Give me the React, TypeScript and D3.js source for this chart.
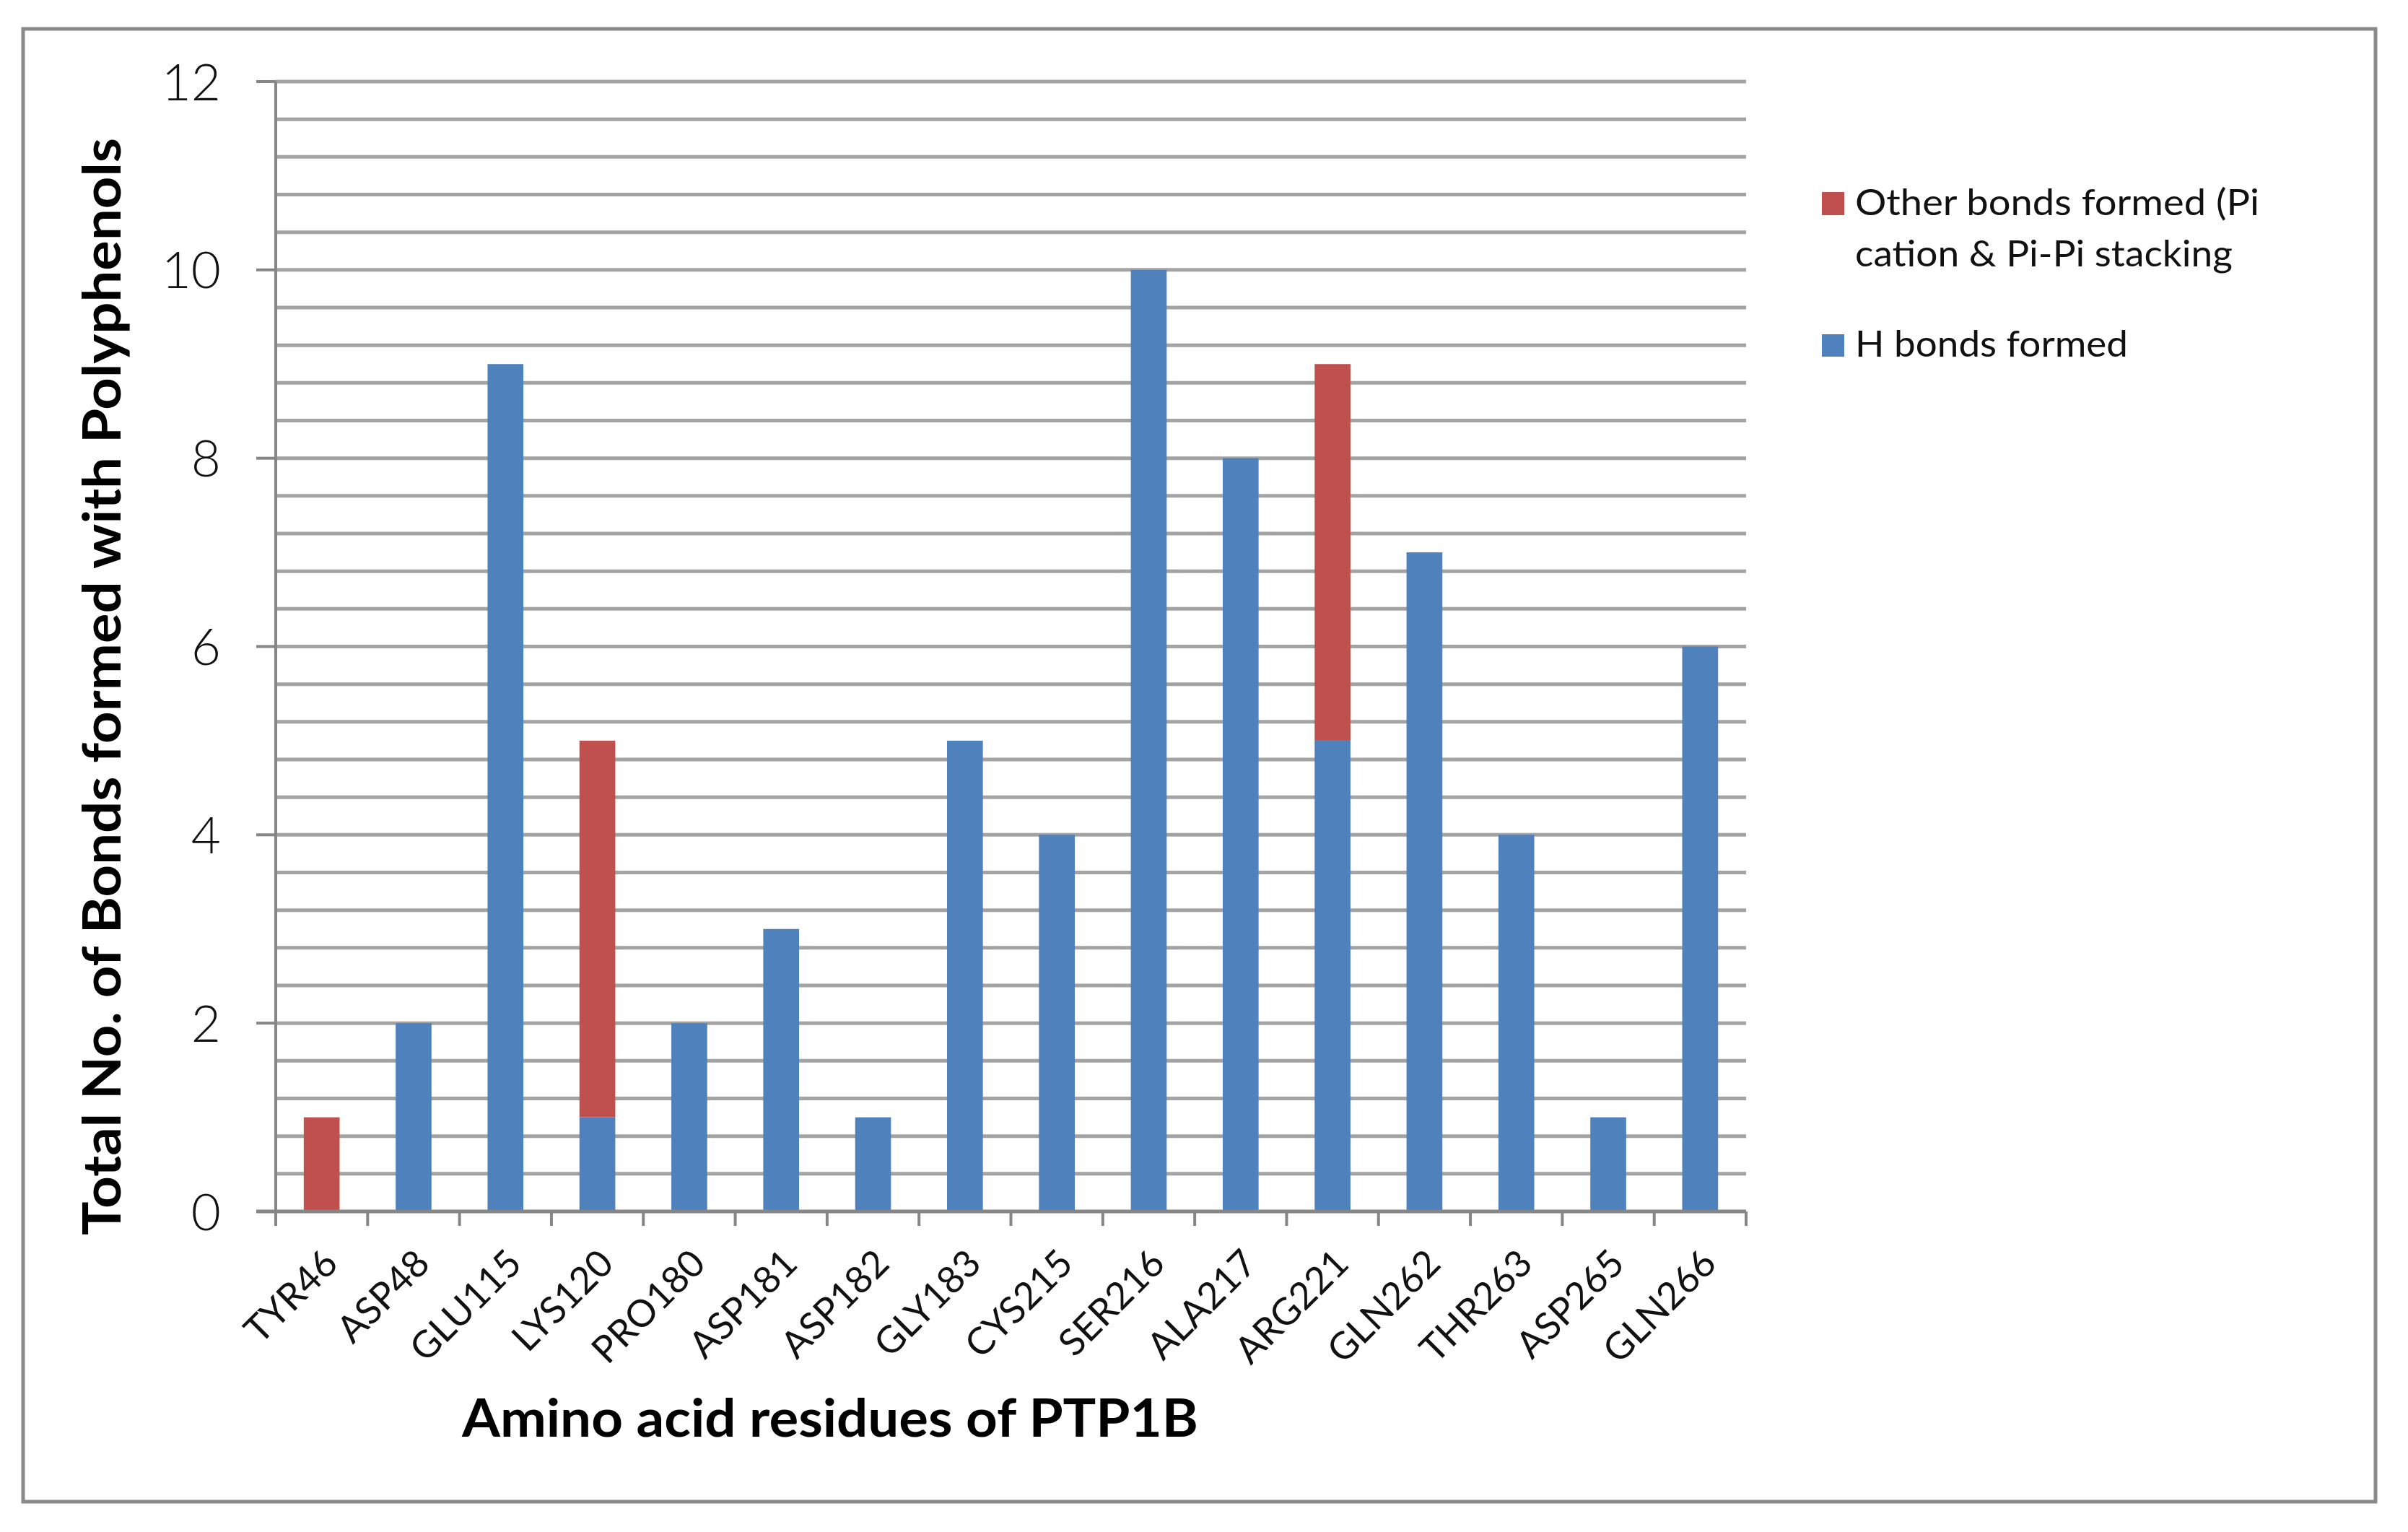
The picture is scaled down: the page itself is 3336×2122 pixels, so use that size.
import React from "react";
import * as d3 from "d3";

const categories = ["TYR46","ASP48","GLU115","LYS120","PRO180","ASP181","ASP182","GLY183","CYS215","SER216","ALA217","ARG221","GLN262","THR263","ASP265","GLN266"];
const hBonds = [0,2,9,1,2,3,1,5,4,10,8,5,7,4,1,6];
const otherBonds = [1,0,0,4,0,0,0,0,0,0,0,4,0,0,0,0];
const yTicks = [0,2,4,6,8,10,12];
const seriesNames = ["H bonds formed", "Other bonds formed (Pi cation & Pi-Pi stacking"];
const yTitle = "Total No. of Bonds formed with Polyphenols";
const xTitle = "Amino acid residues of PTP1B";

const W = 3336, H = 2122;
const X0 = 382, X1 = 2419, Y0 = 1678, Y1 = 113;
const BLUE = "#4F81BD", RED = "#C0504D";
const FONT = "Lato, 'Open Sans', sans-serif";

export default function App() {
  const x = d3.scaleBand<string>().domain(categories).range([X0, X1]).paddingInner(0.61).paddingOuter(0.305);
  const y = d3.scaleLinear().domain([0, 12]).range([Y0, Y1]);
  const rows = categories.map((c, i) => ({ cat: c, h: hBonds[i], other: otherBonds[i] }));
  const stack = d3.stack<any>().keys(["h", "other"])(rows);
  const colors: Record<string, string> = { h: BLUE, other: RED };
  const grid = d3.range(1, 31).map((k) => k * 0.4);
  const step = x.step();
  const boundaries = d3.range(0, categories.length + 1).map((k) => X0 + k * step);

  return (
    <svg width={W} height={H} style={{ position: "absolute", left: 0, top: 0, background: "#fff" }} fontFamily={FONT}>
      <rect x={0} y={0} width={W} height={H} fill="#fff" />
      <rect x={32} y={40} width={3259} height={2040} fill="#fff" stroke="#8a8a8a" strokeWidth={5} />
      {/* gridlines */}
      {grid.map((g) => (
        <line key={g} x1={X0} x2={X1} y1={y(g)} y2={y(g)} stroke="#a3a3a3" strokeWidth={5} />
      ))}
      {/* bars */}
      {stack.map((s) => (
        <g key={s.key} fill={colors[s.key]}>
          {s.map((d, i) => (d[1] - d[0] > 0 ? (
            <rect key={i} x={x(categories[i])} width={x.bandwidth()} y={y(d[1])} height={y(d[0]) - y(d[1])} />
          ) : null))}
        </g>
      ))}
      {/* y axis */}
      <line x1={X0} x2={X0} y1={Y1} y2={Y0} stroke="#868686" strokeWidth={4} />
      {yTicks.map((t) => (
        <g key={t}>
          <line x1={X0 - 27} x2={X0} y1={y(t)} y2={y(t)} stroke="#868686" strokeWidth={4} />
          <text x={306} y={y(t)} dy="0.36em" textAnchor="end" fontSize={71} fontWeight={300} fill="#111">{t}</text>
        </g>
      ))}
      {/* x axis */}
      <line x1={X0 - 27} x2={X1} y1={Y0} y2={Y0} stroke="#868686" strokeWidth={5} />
      {boundaries.map((b, i) => (
        <line key={i} x1={b} x2={b} y1={Y0} y2={Y0 + 20} stroke="#868686" strokeWidth={4} />
      ))}
      {categories.map((c) => {
        const cx = (x(c) as number) + x.bandwidth() / 2 + 12;
        const cy = 1740;
        return (
          <text key={c} x={cx} y={cy} dy="0.36em" textAnchor="end" fontSize={52} fill="#111" transform={`rotate(-45 ${cx} ${cy})`}>{c}</text>
        );
      })}
      {/* axis titles */}
      <text x={1150} y={1990} textAnchor="middle" fontSize={72} fontWeight={700} fill="#000" textLength={1020} lengthAdjust="spacingAndGlyphs">{xTitle}</text>
      <text x={167} y={951} textAnchor="middle" fontSize={72} fontWeight={700} fill="#000" transform="rotate(-90 167 951)" textLength={1520} lengthAdjust="spacingAndGlyphs">{yTitle}</text>
      {/* legend */}
      <rect x={2524} y={266} width={31} height={32} fill={RED} />
      <text x={2570} y={298} fontSize={50} fill="#111" textLength={560} lengthAdjust="spacingAndGlyphs">{"Other bonds formed (Pi"}</text>
      <text x={2570} y={369} fontSize={50} fill="#111" textLength={523} lengthAdjust="spacingAndGlyphs">{"cation & Pi-Pi stacking"}</text>
      <rect x={2524} y={463} width={31} height={31} fill={BLUE} />
      <text x={2570} y={494} fontSize={50} fill="#111" textLength={378} lengthAdjust="spacingAndGlyphs">{seriesNames[0]}</text>
    </svg>
  );
}
